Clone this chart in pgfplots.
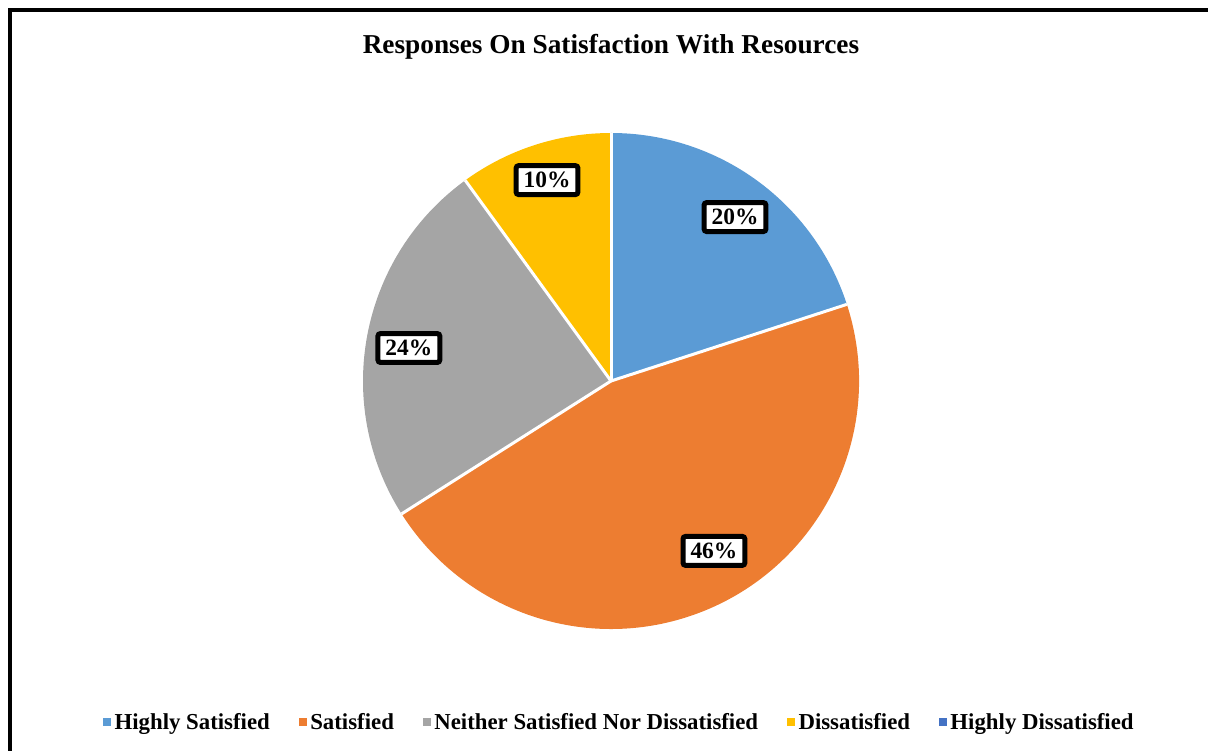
\documentclass[border=0pt]{standalone}
\usepackage{fontspec}
\setmainfont{Liberation Serif}
\usepackage{pgfplots}
\pgfplotsset{compat=1.18}
\definecolor{cHS}{HTML}{5B9BD5}
\definecolor{cS}{HTML}{ED7D31}
\definecolor{cN}{HTML}{A5A5A5}
\definecolor{cD}{HTML}{FFC000}
\definecolor{cHD}{HTML}{4472C4}
\tikzset{lbl/.style={draw=black, line width=5bp, fill=white, rounded corners=2.5bp,
    font=\bfseries\fontsize{23.5}{25}\selectfont, inner xsep=7.5bp, inner ysep=6.5bp}}
\begin{document}
\begin{tikzpicture}
\path[use as bounding box] (0bp,0bp) rectangle (1208bp,751bp);
\draw[line width=4bp] (10bp,-5bp) -- (10bp,741bp) -- (1215bp,741bp);
\begin{axis}[
  at={(611bp,370bp)}, anchor=origin,
  hide axis, clip=false,
  x=248bp, y=248bp,
  xmin=-1, xmax=1, ymin=-1, ymax=1,
  title={Responses On Satisfaction With Resources},
  title style={font=\bfseries\fontsize{27.4}{30}\selectfont, at={(0.5,1.161)}, anchor=center},
  legend columns=-1,
  legend style={at={(0.519,-0.187)}, anchor=center, draw=none, fill=none,
    font=\bfseries\fontsize{22.9}{26}\selectfont,
    nodes={inner sep=4bp},
    /tikz/every even column/.append style={column sep=25bp}},
  legend image code/.code={\fill[#1] (0bp,-3.5bp) rectangle (7bp,3.5bp);},
]
\foreach \v/\c [remember=\e as \s (initially 90)] in {20/cHS,46/cS,24/cN,10/cD,0/cHD} {
  \pgfmathsetmacro\e{\s-3.6*\v}
  \edef\temp{\noexpand\fill[\c] (axis cs:0,0) -- (axis cs:{cos(\s)},{sin(\s)}) arc[start angle=\s, end angle=\e, radius=248bp] -- cycle;}
  \temp
}
\foreach \v [remember=\e as \s (initially 90)] in {20,46,24,10} {
  \pgfmathsetmacro\e{\s-3.6*\v}
  \edef\temp{\noexpand\draw[white, line width=3bp] (axis cs:0,0) -- (axis cs:{cos(\s)},{sin(\s)});}
  \temp
}
\node[lbl] at (axis cs:0.50,0.661) {20\%};
\node[lbl] at (axis cs:0.415,-0.685) {46\%};
\node[lbl] at (axis cs:-0.815,0.133) {24\%};
\node[lbl] at (axis cs:-0.258,0.81) {10\%};
\addlegendimage{cHS}
\addlegendimage{cS}
\addlegendimage{cN}
\addlegendimage{cD}
\addlegendimage{cHD}
\legend{Highly Satisfied, Satisfied, Neither Satisfied Nor Dissatisfied, Dissatisfied, Highly Dissatisfied}
\end{axis}
\end{tikzpicture}
\end{document}
